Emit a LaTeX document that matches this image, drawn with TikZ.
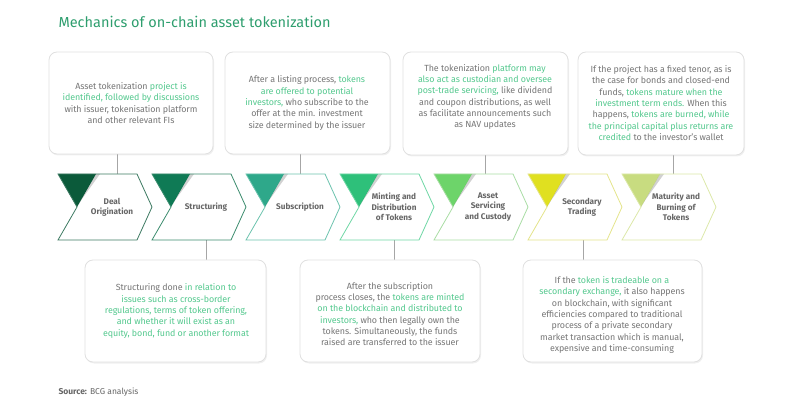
\documentclass[tikz,border=0pt]{standalone}
\usepackage{fontspec}
\setmainfont{Fira Sans}
\usetikzlibrary{shadows}
\definecolor{tg}{HTML}{777777}
\definecolor{hl}{HTML}{55C98F}
\definecolor{ttl}{HTML}{2E9E6E}
\newcommand{\h}[1]{\textcolor{hl}{#1}}
\begin{document}
\begin{tikzpicture}[x=1pt,y=-1pt,
 box/.style={draw=black!12,line width=0.8pt,rounded corners=8pt,fill=white,drop shadow={opacity=0.12,shadow xshift=1pt,shadow yshift=-1.5pt}},
 txt/.style={text=tg,font=\fontsize{8.9}{11.3}\selectfont\addfontfeature{LetterSpace=-1},align=center},
 lbl/.style={text=black!60,font=\fontsize{8.2}{10.3}\selectfont\bfseries,align=center},
 conn/.style={draw=black!35,line width=0.6pt}]
\useasboundingbox (0,0) rectangle (800,411);
\node[anchor=west,text=ttl,font=\fontsize{14.5}{16}\selectfont] (title) at (55,22) {Mechanics of on-chain asset tokenization};
\node[anchor=west,text=black!60,font=\fontsize{8.5}{10}\selectfont] (src) at (55,392) {\textbf{Source:} BCG analysis};
% connectors
\coordinate (t1) at (117,154); \coordinate (c1) at (117,174);
\coordinate (t2) at (300,154); \coordinate (c2) at (300,174);
\coordinate (t3) at (485,155); \coordinate (c3) at (485,174);
\coordinate (t4) at (673,155); \coordinate (c4) at (673,174);
\coordinate (b1) at (206,240); \coordinate (d1) at (206,260);
\coordinate (b2) at (394,240); \coordinate (d2) at (394,260);
\coordinate (b3) at (583,240); \coordinate (d3) at (583,260);
\foreach \a/\b in {t1/c1,t2/c2,t3/c3,t4/c4,b1/d1,b2/d2,b3/d3} \draw[conn] (\a)--(\b);
% boxes
\path[box] (49,52) rectangle (213,154);
\path[box] (225,52) rectangle (390,154);
\path[box] (403,52) rectangle (568,155);
\path[box] (578,52) rectangle (744,155);
\path[box] (85,260) rectangle (266,362);
\path[box] (300,260) rectangle (480,362);
\path[box] (523,260) rectangle (702,362);
\node[txt] (n1) at (131,103) {Asset tokenization \h{project is}\\\h{identified, followed by discussions}\\with issuer, tokenisation platform\\and other relevant FIs};
\node[txt] (n2) at (307,103) {After a listing process, \h{tokens}\\\h{are offered to potential}\\\h{investors,} who subscribe to the\\offer at the min. investment\\size determined by the issuer};
\node[txt] (n3) at (485,97) {The tokenization \h{platform may}\\\h{also act as custodian and oversee}\\\h{post-trade servicing,} like dividend\\and coupon distributions, as well\\as facilitate announcements such\\as NAV updates};
\node[txt] (n4) at (661,103) {If the project has a fixed tenor, as is\\the case for bonds and closed-end\\funds, \h{tokens mature when the}\\\h{investment term ends.} When this\\happens, \h{tokens are burned, while}\\\h{the principal capital plus returns are}\\\h{credited} to the investor’s wallet};
\node[txt] (m1) at (176,311) {Structuring done \h{in relation to}\\\h{issues such as cross-border}\\\h{regulations, terms of token offering,}\\\h{and whether it will exist as an}\\\h{equity, bond, fund or another format}};
\node[txt] (m2) at (390,314) {After the subscription\\process closes, the \h{tokens are minted}\\\h{on the blockchain and distributed to}\\\h{investors,} who then legally own the\\tokens. Simultaneously, the funds\\raised are transferred to the issuer};
\node[txt] (m3) at (612,315) {If the \h{token is tradeable on a}\\\h{secondary exchange,} it also happens\\on blockchain, with significant\\efficiencies compared to traditional\\process of a private secondary\\market transaction which is manual,\\expensive and time-consuming};
% chevrons
\foreach \i/\tc/\oc/\lab in {
 0/0B5A3A/3D7A62/{Deal\\Origination},
 1/0F7A55/3C8C6E/{Structuring},
 2/2EA88A/6CC3AE/{Subscription},
 3/2EC07A/6FD7A5/{Minting and\\Distribution\\of Tokens},
 4/6DD46A/A9DDA4/{Asset\\Servicing\\and Custody},
 5/E0E020/E4E48A/{Secondary\\Trading},
 6/C8DC80/DCE8A8/{Maturity and\\Burning of\\Tokens}} {
 \pgfmathsetmacro{\xo}{58+94*\i}
 \definecolor{tcol}{HTML}{\tc}\definecolor{ocol}{HTML}{\oc}
 \fill[white] (\xo,174)--(\xo+79,174)--(\xo+94,207)--(\xo+79,240)--(\xo,240)--(\xo+19,207)--cycle;
 \fill[tcol] (\xo,174)--(\xo+38,174)--(\xo+19,207)--cycle;
 \fill[black,opacity=0.18] (\xo+38,174)--(\xo+19,207)--(\xo+24,199)--(\xo+42,174)--cycle;
 \draw[ocol,line width=0.8pt,line join=miter] (\xo,174)--(\xo+79,174)--(\xo+94,207)--(\xo+79,240)--(\xo,240)--(\xo+19,207)--cycle;
 \node[lbl] (ch\i) at (\xo+54,207) {\lab};
}
\end{tikzpicture}
\end{document}
